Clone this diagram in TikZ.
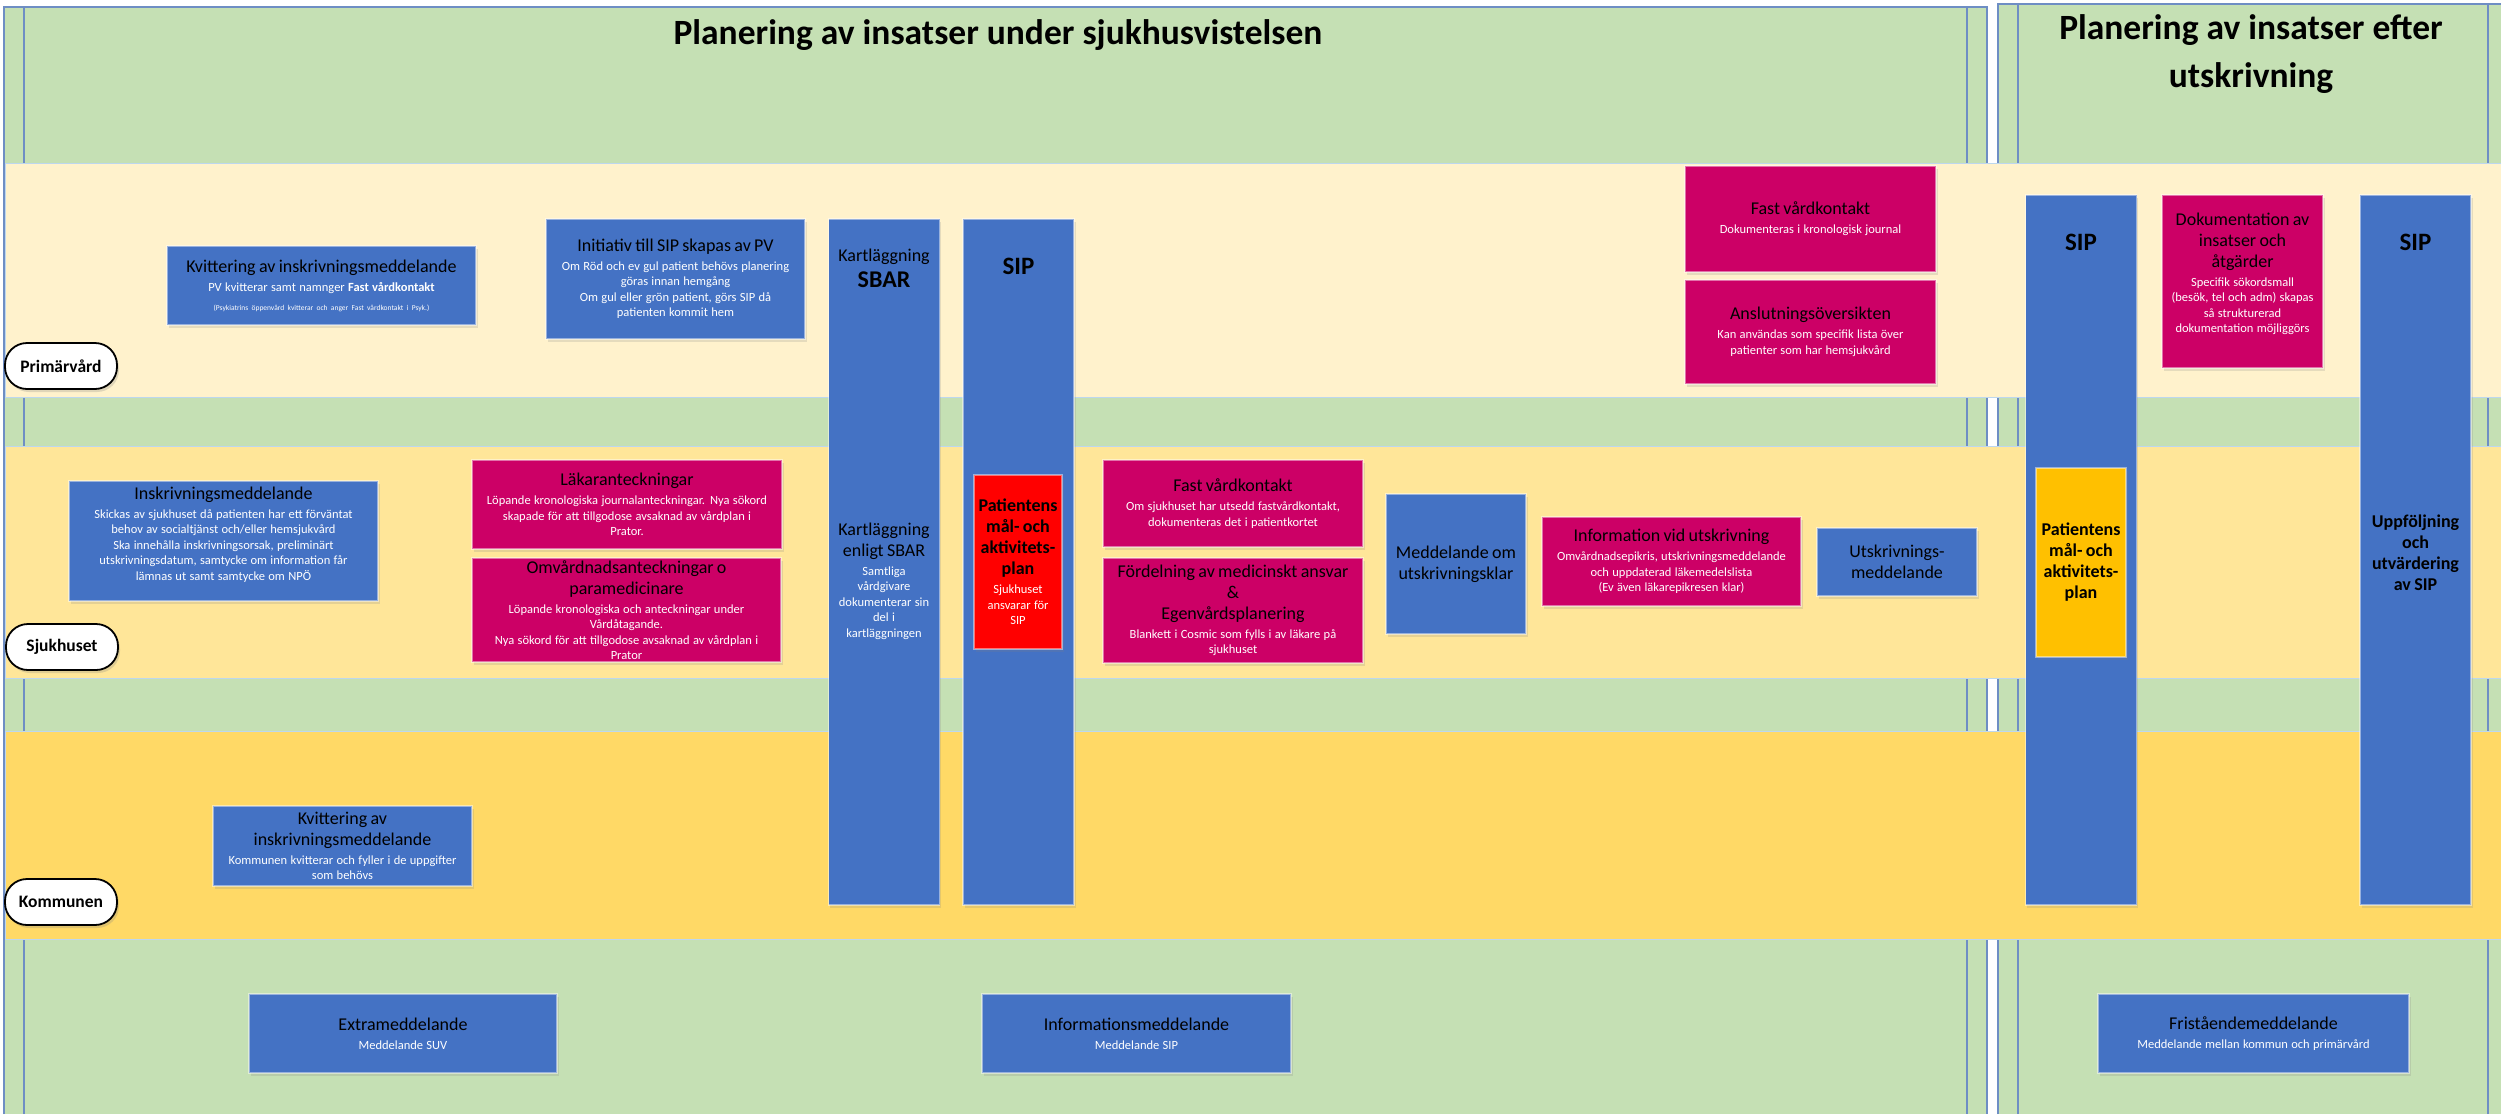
\documentclass[tikz,border=0pt]{standalone}
\usepackage{fontspec}
\setmainfont{Carlito}
\usetikzlibrary{positioning,shadows}
\definecolor{grn}{HTML}{C5E0B4}
\definecolor{pvband}{HTML}{FFF2CC}
\definecolor{shband}{HTML}{FFE699}
\definecolor{kmband}{HTML}{FFD966}
\definecolor{sipblue}{HTML}{4472C4}
\definecolor{vkpink}{HTML}{CC0066}
\definecolor{planyellow}{HTML}{FFC000}
\definecolor{panelline}{HTML}{6E8EC4}
\definecolor{bandline}{HTML}{BDD7EE}
\setlength{\parindent}{0pt}
\hyphenpenalty=10000
\newcommand{\rubrik}[1]{{\fontsize{18}{21}\selectfont #1\par}}
\newcommand{\notis}[1]{{\fontsize{12.5}{15.5}\selectfont\vspace{3.5pt}\leavevmode\color{white}#1\par}}
\newcommand{\luft}[1]{\par\rule{0pt}{#1}}
\tikzset{
  band/.style={draw=bandline,line width=1pt},
  pline/.style={draw=panelline,line width=1.2pt},
  box/.style={rectangle,draw=white,draw opacity=.45,line width=1.2pt,
    inner xsep=2pt,inner ysep=0pt,align=center,
    drop shadow={opacity=.2,shadow xshift=1.5pt,shadow yshift=-3pt}},
  bluebox/.style={box,fill=sipblue},
  pinkbox/.style={box,fill=vkpink},
  redbox/.style={box,fill=red},
  yelbox/.style={box,fill=planyellow},
  col/.style={bluebox,minimum width=111pt},
  coltxt/.style={align=center,inner sep=0pt,text width=107pt},
  sipt/.style={coltxt,font=\bfseries\fontsize{25}{30}\selectfont},
  lanelbl/.style={rectangle,rounded corners=22pt,draw=black,line width=1.8pt,fill=white,
    minimum width=112pt,minimum height=46pt,
    font=\bfseries\fontsize{17.5}{20}\selectfont,
    drop shadow={opacity=.25,shadow xshift=2pt,shadow yshift=-3pt}},
  head/.style={align=center,font=\bfseries\fontsize{35.5}{48}\selectfont}
}
\begin{document}
\begin{tikzpicture}[x=1pt,y=-1pt]
\useasboundingbox (0,0) rectangle (2501,1114);
\fill[white] (0,0) rectangle (2501,1114);
\fill[grn] (4,7) rectangle (1987,1114);
\fill[grn] (1998,4) rectangle (2501,1114);
\draw[pline] (4,1114)--(4,7)--(1987,7)--(1987,1114);
\draw[pline] (24,7)--(24,1114) (1967,7)--(1967,1114);
\draw[pline] (1998,1114)--(1998,4)--(2501,4);
\draw[pline] (2018,4)--(2018,1114) (2488,4)--(2488,1114);
\draw[band,fill=pvband] (5,163) rectangle (2501,397);
\draw[band,fill=shband] (5,446) rectangle (2501,678);
\draw[band,fill=kmband] (5,731) rectangle (2501,939);

\node[head] (rubA) at (998,35) {Planering av insatser under sjukhusvistelsen};
\node[head] (rubB) at (2251,54) {Planering av insatser efter\\utskrivning};

\node[lanelbl] (pv) at (61,366) {Primärvård};
\node[lanelbl] (sh) at (62,647) {Sjukhuset};
\node[lanelbl] (km) at (61,902) {Kommunen};

% primärvård
\node[bluebox,text width=305pt,minimum height=79pt] (kvitpv) at (321.5,285.5)
  {\rubrik{Kvittering av inskrivningsmeddelande}
   \notis{PV kvitterar samt namnger \textbf{Fast vårdkontakt}}
   {\fontsize{7.5}{10}\selectfont\vspace{9pt}\leavevmode\color{white}(Psykiatrins öppenvård kvitterar och anger Fast vårdkontakt i Psyk.)\par}};
\node[bluebox,text width=255pt,minimum height=120pt] (initiativ) at (675.5,279)
  {\rubrik{Initiativ till SIP skapas av PV}
   \notis{Om Röd och ev gul patient behövs planering\\göras innan hemgång\\Om gul eller grön patient, görs SIP då\\patienten kommit hem}};
\node[pinkbox,text width=247pt,minimum height=106pt] (fvkpv) at (1810.5,219)
  {\rubrik{Fast vårdkontakt}\notis{Dokumenteras i kronologisk journal}};
\node[pinkbox,text width=247pt,minimum height=104pt] (anslut) at (1810.5,332)
  {\rubrik{Anslutningsöversikten}
   \notis{Kan användas som specifik lista över\\patienter som har hemsjukvård}};
\node[pinkbox,text width=157pt,minimum height=173pt] (dok) at (2242.5,281.5)
  {\rubrik{Dokumentation av\\insatser och\\åtgärder}
   \notis{Specifik sökordsmall\\(besök, tel och adm) skapas\\så strukturerad\\dokumentation möjliggörs}\luft{14pt}};

% sjukhuset
\node[bluebox,text width=305pt,minimum height=120pt] (inskr) at (223.5,541)
  {\rubrik{Inskrivningsmeddelande}
   \notis{Skickas av sjukhuset då patienten har ett förväntat\\behov av socialtjänst och/eller hemsjukvård\\Ska innehålla inskrivningsorsak, preliminärt\\utskrivningsdatum, samtycke om information får\\lämnas ut samt samtycke om NPÖ}\luft{12pt}};
\node[pinkbox,text width=306pt,minimum height=89pt] (lakar) at (627,504.5)
  {\rubrik{Läkaranteckningar}
   \notis{Löpande kronologiska journalanteckningar. Nya sökord\\skapade för att tillgodose avsaknad av vårdplan i\\Prator.}};
\node[pinkbox,text width=305pt,minimum height=104pt] (omvard) at (626.5,610)
  {\rubrik{Omvårdnadsanteckningar o\\paramedicinare}
   \notis{Löpande kronologiska och anteckningar under\\Vårdåtagande.\\Nya sökord för att tillgodose avsaknad av vårdplan i\\Prator}};

\node[col,minimum height=686pt] (kart) at (884,562) {};
\node[coltxt] (kartA) at (884,268)
  {\rubrik{Kartläggning}{\fontsize{24}{26}\selectfont\bfseries SBAR\par}};
\node[coltxt] (kartB) at (884,581)
  {\rubrik{Kartläggning\\enligt SBAR}
   \notis{Samtliga\\vårdgivare\\dokumenterar sin\\del i\\kartläggningen}};
\node[col,minimum height=686pt] (sipA) at (1018.5,562) {};
\node[sipt] (sipAt) at (1018.5,266) {SIP};
\node[redbox,text width=84pt,minimum height=174pt] (malA) at (1018,562)
  {{\bfseries\rubrik{Patientens\\mål- och\\aktivitets-\\plan}}
   \notis{Sjukhuset\\ansvarar för\\SIP}};

\node[pinkbox,text width=256pt,minimum height=87pt] (fvksh) at (1233,503.5)
  {\rubrik{Fast vårdkontakt}
   \notis{Om sjukhuset har utsedd fastvårdkontakt,\\dokumenteras det i patientkortet}};
\node[pinkbox,text width=256pt,minimum height=105pt] (fordel) at (1233,610.5)
  {\rubrik{Fördelning av medicinskt ansvar\\\&\\Egenvårdsplanering}
   \notis{Blankett i Cosmic som fylls i av läkare på\\sjukhuset}};
\node[bluebox,text width=136pt,minimum height=140pt] (medd) at (1456,564)
  {\rubrik{Meddelande om\\utskrivningsklar}};
\node[pinkbox,text width=255pt,minimum height=89pt] (infout) at (1671.5,561.5)
  {\rubrik{Information vid utskrivning}
   \notis{Omvårdnadsepikris, utskrivningsmeddelande\\och uppdaterad läkemedelslista\\(Ev även läkarepikresen klar)}};
\node[bluebox,text width=156pt,minimum height=68pt] (utskr) at (1897,562)
  {\rubrik{Utskrivnings-\\meddelande}};

\node[col,minimum height=710pt] (sipB) at (2081,550) {};
\node[sipt] (sipBt) at (2081,242) {SIP};
\node[yelbox,text width=86pt,minimum height=189pt] (malB) at (2081,562.5)
  {{\bfseries\rubrik{Patientens\\mål- och\\aktivitets-\\plan}}};
\node[col,minimum height=710pt] (sipC) at (2415.5,550) {};
\node[sipt] (sipCt) at (2415.5,242) {SIP};
\node[coltxt] (uppf) at (2415.5,553)
  {{\bfseries\rubrik{Uppföljning\\och\\utvärdering\\av SIP}}};

% kommunen
\node[bluebox,text width=255pt,minimum height=80pt] (kvitkm) at (342.5,846)
  {\rubrik{Kvittering av\\inskrivningsmeddelande}
   \notis{Kommunen kvitterar och fyller i de uppgifter\\som behövs}};

\node[bluebox,text width=304pt,minimum height=79pt] (extra) at (403,1033.5)
  {\rubrik{Extrameddelande}\notis{Meddelande SUV}};
\node[bluebox,text width=305pt,minimum height=79pt] (infomedd) at (1136.5,1033.5)
  {\rubrik{Informationsmeddelande}\notis{Meddelande SIP}};
\node[bluebox,text width=307pt,minimum height=79pt] (fristaende) at (2253.5,1033.5)
  {\rubrik{Friståendemeddelande}\notis{Meddelande mellan kommun och primärvård}};
\end{tikzpicture}
\end{document}
